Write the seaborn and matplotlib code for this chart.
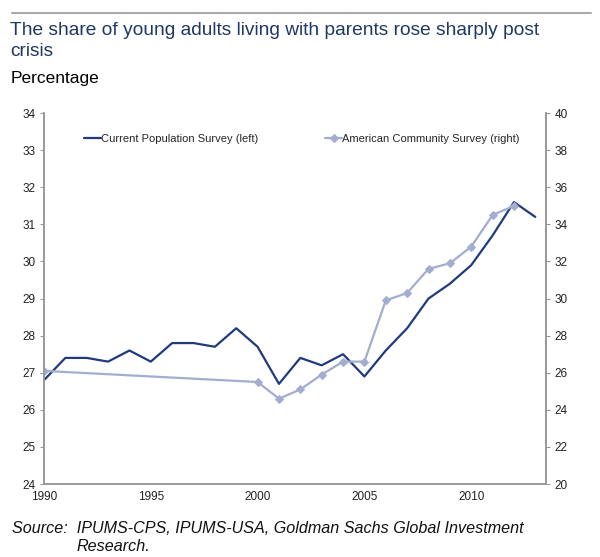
import numpy as np
import pandas as pd
import matplotlib
matplotlib.use("Agg")
import matplotlib.pyplot as plt
import seaborn as sns

# --- data ---
cps_years = list(range(1990, 2014))
cps_values = [26.8, 27.4, 27.4, 27.3, 27.6, 27.3, 27.8, 27.8, 27.7, 28.2, 27.7, 26.7,
              27.4, 27.2, 27.5, 26.9, 27.6, 28.2, 29.0, 29.4, 29.9, 30.7, 31.6, 31.2]
acs_years = [1990, 2000, 2001, 2002, 2003, 2004, 2005, 2006, 2007, 2008, 2009, 2010, 2011, 2012]
acs_values = [26.1, 25.5, 24.6, 25.1, 25.9, 26.6, 26.6, 29.9, 30.3, 31.6, 31.9, 32.8, 34.5, 35.0]
x_ticks = [1990, 1995, 2000, 2005, 2010]
left_ticks = list(range(24, 35))
right_ticks = list(range(20, 41, 2))

NAVY = "#1F3A7D"
LIGHT = "#A2ADD0"
GREY = "#999999"
TITLE_COL = "#1F3864"

sns.set_style("white")
plt.rcParams["font.family"] = ["Liberation Sans", "DejaVu Sans"]

cps = pd.DataFrame({"year": cps_years, "value": cps_values})
acs = pd.DataFrame({"year": acs_years, "value": acs_values})

fig = plt.figure(figsize=(6.0, 5.57), dpi=100)
ax = fig.add_axes([0.0733, 0.131, 0.8367, 0.666])
ax2 = ax.twinx()

sns.lineplot(data=cps, x="year", y="value", ax=ax, color=NAVY, linewidth=1.6,
             label="Current Population Survey (left)", legend=False)
sns.lineplot(data=acs, x="year", y="value", ax=ax2, color=LIGHT, linewidth=1.6,
             marker="D", markersize=4, markeredgecolor=LIGHT,
             label="American Community Survey (right)", legend=False)

ax.set_xlim(1990, 2013.5)
ax.set_ylim(24, 34)
ax2.set_ylim(20, 40)
ax.set_xticks(x_ticks)
ax.set_yticks(left_ticks)
ax2.set_yticks(right_ticks)
ax.set_xlabel("")
ax.set_ylabel("")
ax2.set_ylabel("")

for a in (ax, ax2):
    for side, sp in a.spines.items():
        sp.set_color(GREY)
        sp.set_linewidth(1.2)
    a.spines["top"].set_visible(False)
    a.tick_params(axis="both", labelsize=8.5, colors="#222222", length=3,
                  direction="out", color=GREY, pad=3)
ax.tick_params(axis="x", pad=2)

# legend (two entries spread across the top)
h1, l1 = ax.get_legend_handles_labels()
h2, l2 = ax2.get_legend_handles_labels()
ax2.legend(h1 + h2, l1 + l2, ncol=2, frameon=False, fontsize=8,
           loc="upper left", bbox_to_anchor=(0.06, 0.97), columnspacing=6.0,
           handlelength=1.5, handletextpad=0.05)

# header
fig.add_artist(plt.Line2D([0.02, 0.985], [0.977, 0.977], color="#AAAAAA", linewidth=1.5))
fig.text(0.017, 0.96, "The share of young adults living with parents rose sharply post\ncrisis",
         fontsize=13.8, color=TITLE_COL, va="top", linespacing=1.25)
fig.text(0.017, 0.872, "Percentage", fontsize=12.5, color="black", va="top")
fig.text(0.02, 0.052, "Source:  IPUMS-CPS, IPUMS-USA, Goldman Sachs Global Investment",
         fontsize=11.6, style="italic", color="#111111", va="center")
fig.text(0.128, 0.018, "Research.", fontsize=11.6, style="italic", color="#111111", va="center")

fig.savefig("out.png", dpi=100)
plt.close()
